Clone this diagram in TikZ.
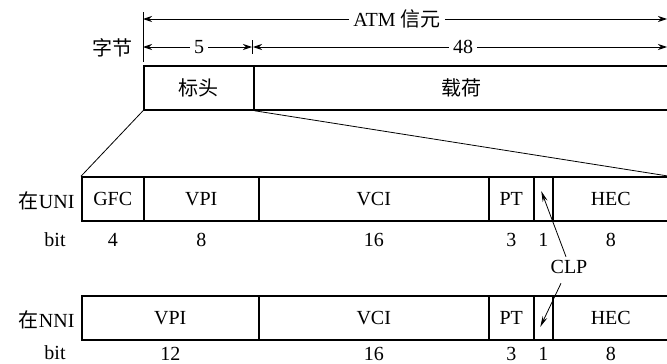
\documentclass[tikz,border=0pt]{standalone}
\usepackage{fontspec}
\setmainfont{Liberation Serif}
\newfontfamily\cjk{Noto Sans CJK SC}
\usetikzlibrary{arrows.meta}

\tikzset{
  field/.style={draw, line width=1.5pt, minimum height=44pt, anchor=west, inner sep=0pt},
  dim/.style={-{Stealth[length=9pt,width=6pt]}, line width=0.9pt},
  clparrow/.style={-{Stealth[length=11pt,width=5pt]}, line width=0.8pt},
  gap/.style={inner sep=4pt},
  bitnum/.style={inner sep=1pt},
}

\begin{document}
\begin{tikzpicture}[x=1pt,y=-1pt,font=\fontsize{20}{23}\selectfont]
  \clip (0,0) rectangle (667,364);

  % 顶部尺寸线
  \draw[line width=0.8pt] (143,12) -- (143,62);
  \coordinate (atmL) at (143,19);
  \coordinate (atmR) at (667,19);
  \node[gap] (atm) at (397,19) {ATM {\cjk 信元}};
  \draw[dim] (atm.west) -- (atmL);
  \draw[dim] (atm.east) -- (atmR);

  \node (byte) at (112,48) {\cjk 字节};
  \coordinate (hL) at (143,47);
  \coordinate (hR) at (252,47);
  \coordinate (pL) at (253,47);
  \coordinate (pR) at (667,47);
  \node[gap] (five) at (199,47) {5};
  \node[gap] (fortyeight) at (463,47) {48};
  \draw[dim] (five.west) -- (hL);
  \draw[dim] (five.east) -- (hR);
  \draw[dim] (fortyeight.west) -- (pL);
  \draw[dim] (fortyeight.east) -- (pR);
  \draw[line width=0.8pt] (252,40) -- (252,54);

  % 信元
  \node[field, minimum width=110pt] (hdr) at (143,88) {\cjk 标头};
  \node[field, minimum width=415pt] (pay) at (253,88) {\cjk 载荷};

  % UNI
  \node[anchor=east] (uni) at (78,201) {{\cjk 在}UNI};
  \node[bitnum] (ubit) at (55,240) {bit};
  \foreach \name/\x/\w/\txt/\bits in {gfc/81/62/GFC/4, vpi/143/115/VPI/8,
      vci/258/230/VCI/16, pt/488/45/PT/3, clp/533/19//1, hec/552/116/HEC/8}
  {
    \node[field, minimum width=\w pt] (u-\name) at (\x,199) {\txt};
    \node[bitnum] at ([yshift=-18pt]u-\name.south) {\bits};
  }
  \draw[line width=0.8pt] (hdr.south west) -- (u-gfc.north west);
  \draw[line width=0.8pt] (hdr.south east) -- (u-hec.north east);

  % NNI
  \node[anchor=east] (nni) at (78,320) {{\cjk 在}NNI};
  \node[bitnum] (nbit) at (55,353) {bit};
  \foreach \name/\x/\w/\txt/\bits in {vpi/81/177/VPI/12,
      vci/258/230/VCI/16, pt/488/45/PT/3, clp/533/19//1, hec/552/116/HEC/8}
  {
    \node[field, minimum width=\w pt] (n-\name) at (\x,318) {\txt};
    \node[bitnum] at ([yshift=-13pt]n-\name.south) {\bits};
  }

  % CLP
  \node (clp) at (569,267) {CLP};
  \draw[clparrow] ([xshift=-3pt]clp.north) -- ([shift={(-2,-8)}]u-clp.center);
  \draw[clparrow] ([shift={(-8,6)}]clp.south) -- ([shift={(-3,9)}]n-clp.center);
\end{tikzpicture}
\end{document}
